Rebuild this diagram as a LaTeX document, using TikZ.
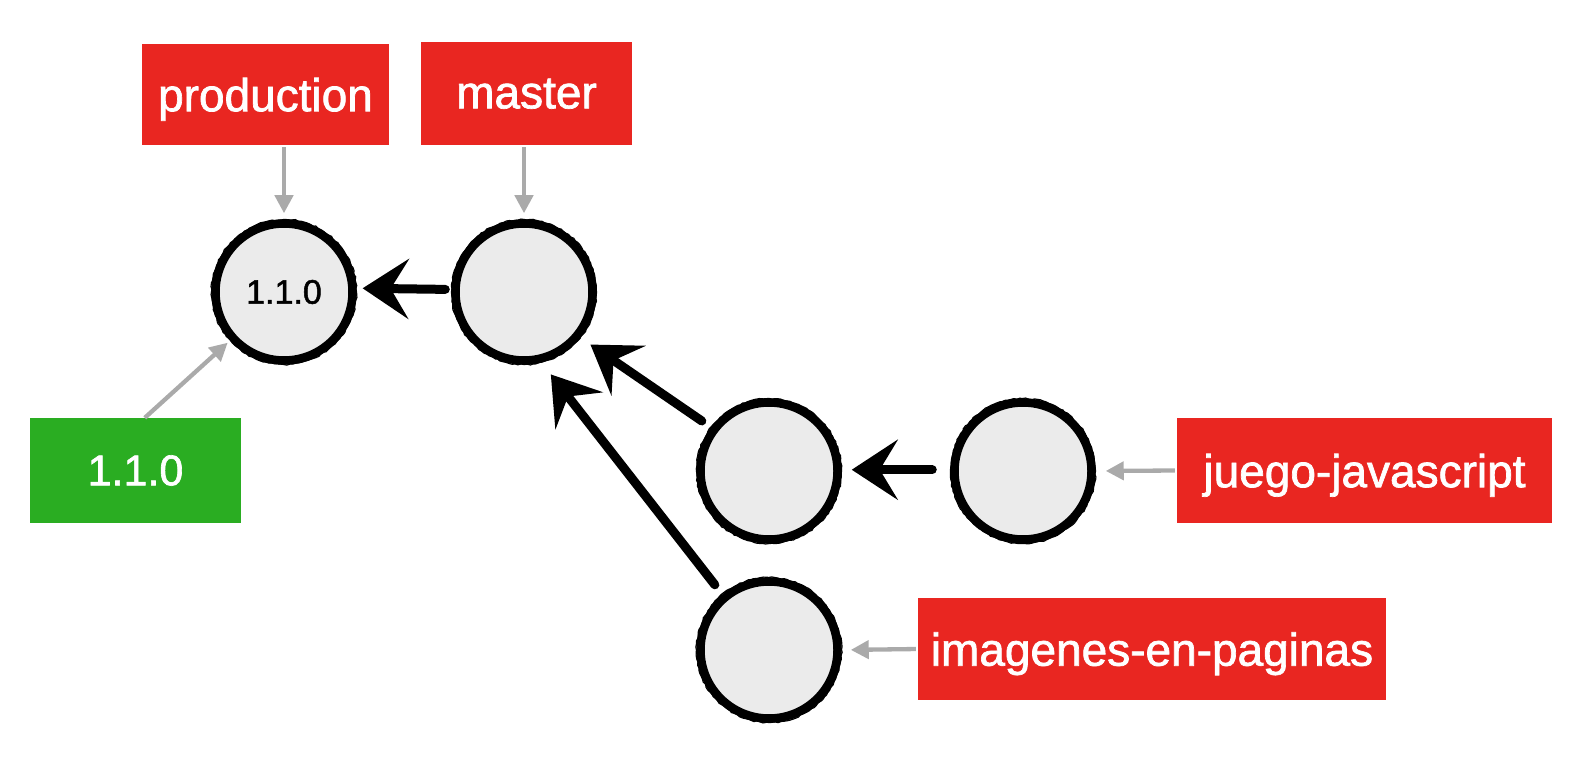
\documentclass[tikz,border=0pt]{standalone}
\usepackage{fontspec}
\setmainfont{Liberation Sans}
\newfontfamily\labelfont[FakeBold=1.5]{Liberation Sans}
\usetikzlibrary{arrows.meta,decorations.pathmorphing}
\definecolor{brred}{RGB}{233,38,33}
\definecolor{tagg}{RGB}{42,173,34}
\definecolor{cfill}{RGB}{235,235,235}
\definecolor{pgray}{RGB}{170,170,170}
\tikzset{
  commit/.style={circle, draw=black, line width=8.5pt, fill=cfill, minimum size=137pt, inner sep=0pt,
     font=\labelfont\fontsize{34}{40}\selectfont},
  rough/.style={draw=black, line width=1.2pt, decorate, decoration={random steps, segment length=3pt, amplitude=0.7pt}},
  branch/.style={fill=brred, text=white, inner sep=0pt, text depth=0pt, font=\labelfont\fontsize{46}{55}\selectfont},
  tagbox/.style={fill=tagg, text=white, inner sep=0pt, font=\labelfont\fontsize{43}{52}\selectfont},
  ptr/.style={draw=pgray, line width=4.3pt, -{Triangle[length=18pt,width=18pt]}},
  parent/.style={draw=black, line width=9pt, line cap=round,
     -{Stealth[length=46pt,width=60pt,inset=18pt]}},
}
\begin{document}
\begin{tikzpicture}[x=1pt,y=-1pt]
\useasboundingbox (0,0) rectangle (1588,762);
\pgfmathsetseed{7}
% commits
\node[commit] (c1) at (284,292) {1.1.0};
\node[commit] (c2) at (524,292) {};
\node[commit] (c3) at (769,471) {};
\node[commit] (c4) at (1023,471) {};
\node[commit] (c5) at (769,650) {};
\foreach \c in {c1,c2,c3,c4,c5}{
  \path[rough] (\c) circle[radius=68.5pt];
  \path[rough] (\c) circle[radius=72.5pt];
}
% labels
\node[branch, minimum width=247pt, minimum height=101pt] (prod) at (265.5,94.5) {production};
\node[branch, minimum width=211pt, minimum height=103pt] (mast) at (526.5,93.5) {master};
\node[tagbox, minimum width=211pt, minimum height=105pt] (tag) at (135.5,470.5) {1.1.0};
\node[branch, minimum width=375pt, minimum height=105pt] (juego) at (1364.5,470.5) {juego-javascript};
\node[branch, minimum width=468pt, minimum height=102pt] (imag) at (1152,649) {imagenes-en-paginas};
% pointer arrows
\draw[ptr, shorten <=2pt, shorten >=6pt] (c1.north |- prod.south) -- (c1.north);
\draw[ptr, shorten <=2pt, shorten >=6pt] (c2.north |- mast.south) -- (c2.north);
\draw[ptr, shorten >=3pt] (tag.80) -- (c1.222);
\draw[ptr, shorten <=2pt, shorten >=10pt] (juego.west) -- (c4.east);
\draw[ptr, shorten <=2pt, shorten >=9pt] (imag.west) -- (c5.east);
% parent arrows
\draw[parent, shorten <=6pt, shorten >=6pt] (c2.178) -- (c1.3);
\draw[parent, shorten <=11pt, shorten >=12pt] (c3.143) -- (c2.-39);
\draw[parent, shorten <=12pt, shorten >=15pt] (c5.130) -- (c2.-76);
\draw[parent, shorten <=18pt, shorten >=10pt] (c4.179) -- (c3.1);
\end{tikzpicture}
\end{document}
